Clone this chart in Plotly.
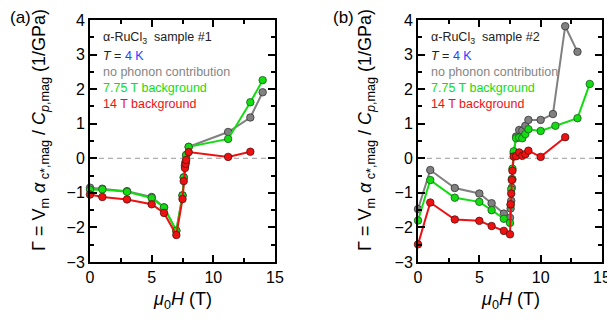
import plotly.graph_objects as go

# ---------------- data ----------------
# sample #1
s1_gray_x = [0, 1, 3, 5, 6, 7, 7.5, 7.6, 7.7, 7.75, 7.8, 8.0, 11.2, 13, 14]
s1_gray_y = [-0.85, -0.88, -0.95, -1.12, -1.42, -2.10, -1.07, -0.55, -0.20, -0.10, 0.08, 0.33, 0.76, 1.18, 1.91]
s1_green_x = [0, 1, 3, 5, 6, 7, 7.5, 7.6, 7.7, 7.75, 7.8, 8.0, 11.2, 13, 14]
s1_green_y = [-0.91, -0.90, -0.97, -1.15, -1.42, -2.09, -1.08, -0.56, -0.22, -0.12, 0.10, 0.33, 0.56, 1.62, 2.26]
s1_red_x = [0, 1, 3, 5, 6, 7, 7.5, 7.6, 7.7, 7.75, 7.8, 8.0, 11.2, 13]
s1_red_y = [-1.05, -1.12, -1.19, -1.33, -1.58, -2.22, -1.18, -0.66, -0.28, -0.16, -0.05, 0.18, 0.04, 0.19]

# sample #2
s2_gray_x = [0, 1, 3, 5, 6, 7, 7.5, 7.55, 7.6, 7.65, 7.7, 7.8, 8.0, 8.25, 8.5, 8.75, 9, 10, 11, 12, 13]
s2_gray_y = [-1.47, -0.34, -0.86, -1.02, -1.30, -1.60, -1.72, -1.45, -1.23, -0.85, -0.61, 0.14, 0.63, 0.82, 0.80, 0.94, 1.11, 1.11, 1.28, 3.82, 3.08]
s2_green_x = [0, 1, 3, 5, 6, 7, 7.5, 7.55, 7.6, 7.65, 7.7, 7.8, 8.0, 8.25, 8.5, 8.75, 9, 10, 11.2, 13, 14]
s2_green_y = [-1.80, -0.63, -1.14, -1.26, -1.50, -1.75, -1.87, -1.35, -0.90, -0.60, -0.30, 0.20, 0.58, 0.60, 0.58, 0.70, 0.84, 0.79, 0.94, 1.16, 2.15]
s2_red_x = [0, 1, 3, 5, 6, 7, 7.5, 7.55, 7.6, 7.65, 7.7, 7.8, 8.0, 8.25, 8.5, 8.75, 9, 10, 12]
s2_red_y = [-2.49, -1.28, -1.77, -1.81, -1.96, -2.10, -2.20, -1.33, -1.02, -0.63, -0.36, 0.05, 0.06, 0.17, 0.07, 0.12, 0.22, 0.04, 0.61]

x_ticks = [0, 5, 10, 15]
y_ticks = [-3, -2, -1, 0, 1, 2, 3, 4]

FONT = "Arial, Liberation Sans, sans-serif"
GRAY, GREEN, RED, BLUE = "#858585", "#11dd11", "#ee1111", "#2244ff"

# the page body has an 8px margin: shrink the figure and map window pixels to paper
OFF = 8
W, H = 615 - OFF, 320 - OFF

def fx(px):
    return (px - OFF) / W

def fy(py):
    return 1 - (py - OFF) / H

fig = go.Figure()

def add_series(x, y, color, edge, xa, ya):
    fig.add_trace(go.Scatter(
        x=x, y=y, mode="lines+markers", xaxis=xa, yaxis=ya,
        line=dict(color=color, width=2),
        marker=dict(size=7.5, color=color, line=dict(color=edge, width=0.8)),
        cliponaxis=False, showlegend=False, hoverinfo="x+y"))

add_series(s1_gray_x, s1_gray_y, "#808080", "#333333", "x", "y")
add_series(s1_green_x, s1_green_y, GREEN, "#225522", "x", "y")
add_series(s1_red_x, s1_red_y, RED, "#551111", "x", "y")
add_series(s2_gray_x, s2_gray_y, "#808080", "#333333", "x2", "y2")
add_series(s2_green_x, s2_green_y, GREEN, "#225522", "x2", "y2")
add_series(s2_red_x, s2_red_y, RED, "#551111", "x2", "y2")

ydom = [fy(262), fy(20)]
ax_common = dict(showline=True, linecolor="black", linewidth=2, mirror="allticks",
                 ticks="inside", ticklen=7, tickwidth=1.5, tickcolor="black",
                 showgrid=False, zeroline=False, automargin=False,
                 tickfont=dict(family=FONT, size=16, color="black"))

xcommon = dict(ax_common, range=[0, 15], tickvals=x_ticks,
               minor=dict(ticks="inside", ticklen=4, tickwidth=1.5, dtick=2.5, tick0=0, tickcolor="black"))
ycommon = dict(ax_common, range=[-3, 4], tickvals=y_ticks,
               minor=dict(ticks="inside", ticklen=4, tickwidth=1.5, dtick=0.5, tick0=0, tickcolor="black"))

fig.update_layout(
    template="none",
    width=W, height=H,
    margin=dict(l=0, r=0, t=0, b=0, pad=0),
    paper_bgcolor="white", plot_bgcolor="white",
    font=dict(family=FONT, color="black"),
    xaxis=dict(xcommon, domain=[fx(90), fx(275)], anchor="y"),
    yaxis=dict(ycommon, domain=ydom, anchor="x"),
    xaxis2=dict(xcommon, domain=[fx(418), fx(602)], anchor="y2"),
    yaxis2=dict(ycommon, domain=ydom, anchor="x2"),
)

for xr, yr in (("x", "y"), ("x2", "y2")):
    fig.add_shape(type="line", xref=xr, yref=yr, x0=0, x1=15, y0=0, y1=0,
                  line=dict(color="#999999", width=1, dash="5px,4px"), layer="below")

ytitle = ("Γ = V<sub>m</sub> <i>α</i><sub> c*,mag</sub> / <i>C</i><sub><i>p</i>,mag</sub> (1/GPa)")
xtitle = "<i>μ</i><sub>0</sub><i>H</i> (T)"

def P(px, py, text, size, color="black", xa="center", ya="middle", angle=0):
    return dict(x=fx(px), y=fy(py), xref="paper", yref="paper", text=text,
                showarrow=False, xanchor=xa, yanchor=ya, textangle=angle, borderpad=0,
                font=dict(family=FONT, size=size, color=color))

annos = []
for cx, ax0, samp in ((41, 90, "#1"), (367, 418, "#2")):
    annos.append(P(cx, 130, ytitle, 18, angle=-90))
    lines = [
        ("α-RuCl<sub>3</sub>  sample " + samp, "#222222", 38),
        ("<i>T</i> = <span style='color:%s'>4 K</span>" % BLUE, "#222222", 56),
        ("no phonon contribution", GRAY, 72),
        ("7.75 T background", GREEN, 88),
        ("14 T background", RED, 104),
    ]
    for t, c, yy in lines:
        annos.append(P(ax0 + 12, yy, t, 12.5, color=c, xa="left"))

annos.append(P(9, 17, "(a)", 17, xa="left"))
annos.append(P(343, 17, "(b)", 17))
annos.append(P(182.5, 300, xtitle, 18))
annos.append(P(510, 300, xtitle, 18))

fig.update_layout(annotations=annos)
fig.write_html("out.html")
